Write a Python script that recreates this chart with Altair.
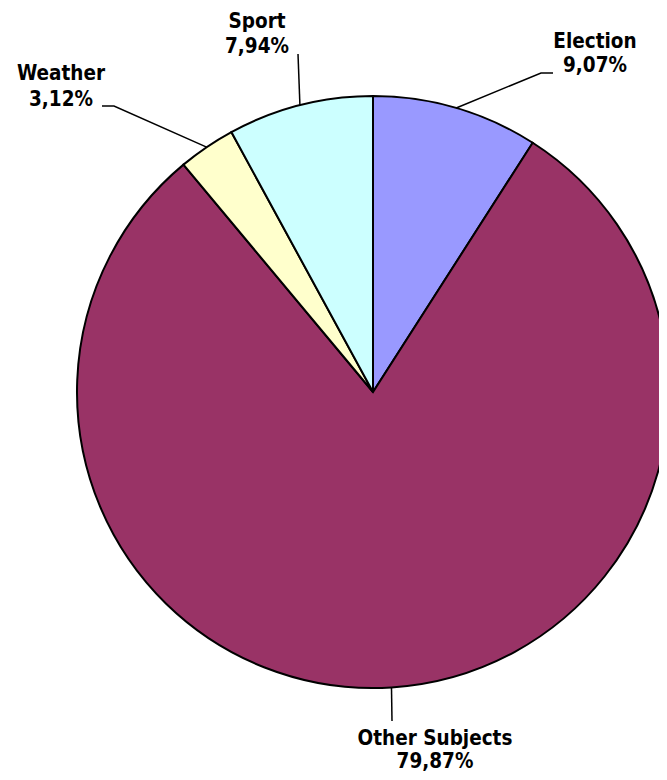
import math
import altair as alt
import pandas as pd

# ---- data ----
categories = ["Election", "Other Subjects", "Weather", "Sport"]
shares = [9.07, 79.87, 3.12, 7.94]
pct_labels = ["9,07%", "79,87%", "3,12%", "7,94%"]
colors = ["#9999FF", "#993366", "#FFFFCC", "#CCFFFF"]

# ---- layout (page pixels) ----
W, H = 651, 764
M = 8
CX, CY, R = 373, 392, 296
# label anchor: (center x, baseline of first line, baseline of second line)
label_pos = {
    "Election": (595, 48, 72),
    "Other Subjects": (435, 745, 768),
    "Weather": (61, 80, 106),
    "Sport": (257, 28, 53),
}
# leader line extra points after the pie-edge start point
leader_pts = {
    "Election": [(541, 73), (553, 73)],
    "Other Subjects": [(392, 721)],
    "Weather": [(114, 106), (102, 106)],
    "Sport": [(298, 54)],
}

pie_df = pd.DataFrame({"cat": categories, "share": shares, "idx": range(len(categories))})

# leader lines: start at pie edge at each slice's mid angle
total = sum(shares)
rows = []
cum = 0.0
for c, s in zip(categories, shares):
    mid = (cum + s / 2) / total * 2 * math.pi
    cum += s
    sx = CX + R * math.sin(mid)
    sy = CY - R * math.cos(mid)
    pts = [(sx, sy)] + leader_pts[c]
    for k, (px, py) in enumerate(pts):
        rows.append({"cat": c, "k": k, "x": px, "y": py})
lead_df = pd.DataFrame(rows)

lab_rows = []
for c, p in zip(categories, pct_labels):
    lx, b1, b2 = label_pos[c]
    lab_rows.append({"txt": c, "x": lx, "y": b1})
    lab_rows.append({"txt": p, "x": lx, "y": b2})
lab_df = pd.DataFrame(lab_rows)

xs = alt.Scale(domain=[M, M + W], nice=False, zero=False)
ys = alt.Scale(domain=[M, M + H], nice=False, zero=False, reverse=True)

pie = alt.Chart(pie_df).mark_arc(
    radius=R, stroke="black", strokeWidth=2
).encode(
    theta=alt.Theta("share:Q", stack=True),
    order=alt.Order("idx:Q"),
    color=alt.Color("cat:N", scale=alt.Scale(domain=categories, range=colors), legend=None),
    x=alt.value(CX - M),
    y=alt.value(CY - M),
)

leaders = alt.Chart(lead_df).mark_line(color="black", strokeWidth=1.5).encode(
    x=alt.X("x:Q", scale=xs, axis=None),
    y=alt.Y("y:Q", scale=ys, axis=None),
    detail="cat:N",
    order="k:Q",
)

labels = alt.Chart(lab_df).mark_text(
    font="DejaVu Sans Condensed", fontWeight="bold", fontSize=20.5,
    align="center", baseline="alphabetic", color="black",
).encode(
    x=alt.X("x:Q", scale=xs, axis=None),
    y=alt.Y("y:Q", scale=ys, axis=None),
    text="txt:N",
)

chart = alt.layer(pie, leaders, labels).properties(
    width=W, height=H, padding=0, autosize=alt.AutoSizeParams(type="none"),
).configure_view(stroke=None)

chart.save("out.html", embed_options={"renderer": "svg", "actions": False})
